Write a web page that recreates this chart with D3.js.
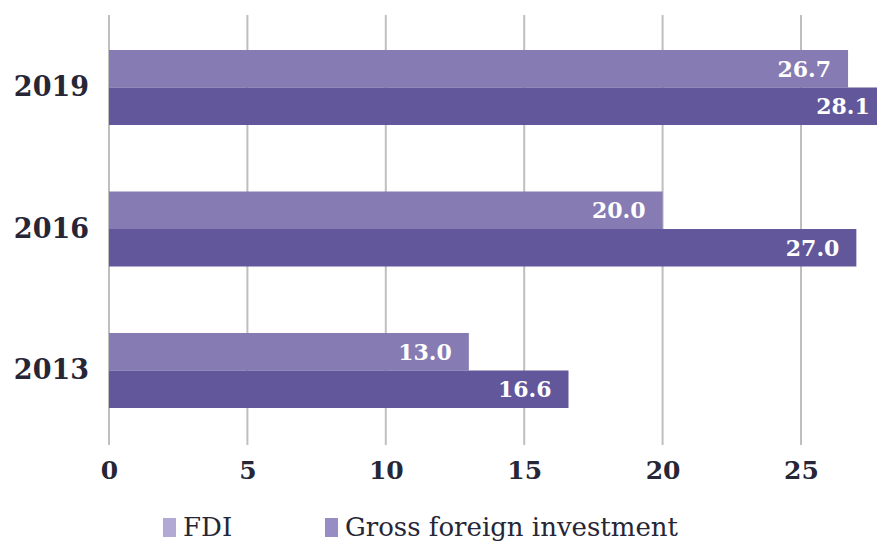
<!DOCTYPE html>
<html>
<head>
<meta charset="utf-8">
<script src="https://cdn.jsdelivr.net/npm/d3@7"></script>
<style>
  body { margin: 0; background: #fff; }
  #chart { width: 877px; height: 546px; }
</style>
</head>
<body>
<div id="chart"></div>
<script>
//Datos
const years = ['2019', '2016', '2013'];
const seriesNames = ['FDI', 'Gross foreign investment'];
const fdiValues = [26.7, 20.0, 13.0];
const grossValues = [28.1, 27.0, 16.6];
const xTicks = [0, 5, 10, 15, 20, 25];

//Colores
const COLOR_FDI = '#877BB4',
COLOR_GROSS = '#61579A',
COLOR_FDI_LEG = '#B2A9D4',
COLOR_GROSS_LEG = '#978CC3',
COLOR_GRID = '#BFBFBF',
COLOR_TEXT = '#262636';

const FONT = '"DejaVu Serif", serif';

let margin = {top: 15, right: 0, bottom: 101, left: 109},
    width = 877 - margin.left - margin.right,
    height = 546 - margin.top - margin.bottom;

let svg = d3.select('#chart')
    .append('svg')
        .attr('width', 877)
        .attr('height', 546)
    .append('g')
        .attr('transform', 'translate(' + margin.left + ',' + margin.top + ')');

let x = d3.scaleLinear()
    .domain([0, 25])
    .range([0, 692]);

let y = d3.scaleBand()
    .domain(years)
    .range([35, 393])
    .paddingInner(0.47)
    .paddingOuter(0);

let ySub = d3.scaleBand()
    .domain(seriesNames)
    .range([0, y.bandwidth()]);

//Rejilla vertical
svg.append('g')
    .selectAll('line')
    .data(xTicks)
    .enter()
    .append('line')
    .attr('x1', d => x(d))
    .attr('x2', d => x(d))
    .attr('y1', 0)
    .attr('y2', height)
    .attr('stroke', COLOR_GRID)
    .attr('stroke-width', 2);

//Eje X
let xAxis = svg.append('g')
    .attr('transform', 'translate(0,' + height + ')')
    .call(d3.axisBottom(x).tickValues(xTicks).tickSize(0).tickPadding(16));
xAxis.select('.domain').remove();
xAxis.selectAll('text')
    .attr('font-family', FONT)
    .attr('font-weight', 'bold')
    .attr('font-size', 25)
    .attr('fill', COLOR_TEXT);

//Eje Y
let yAxis = svg.append('g')
    .call(d3.axisLeft(y).tickSize(0).tickPadding(20));
yAxis.select('.domain').remove();
yAxis.selectAll('text')
    .attr('font-family', FONT)
    .attr('font-weight', 'bold')
    .attr('font-size', 27)
    .attr('fill', COLOR_TEXT);

//Barras
let rows = years.map((yr, i) => ({year: yr, values: [fdiValues[i], grossValues[i]]}));
let colors = [COLOR_FDI, COLOR_GROSS];

let groups = svg.append('g')
    .selectAll('g')
    .data(rows)
    .enter()
    .append('g')
    .attr('transform', d => 'translate(0,' + y(d.year) + ')');

groups.selectAll('rect')
    .data(d => d.values.map((v, j) => ({name: seriesNames[j], value: v, idx: j})))
    .enter()
    .append('rect')
    .attr('x', 0)
    .attr('y', d => ySub(d.name))
    .attr('width', d => x(d.value))
    .attr('height', ySub.bandwidth())
    .attr('fill', d => colors[d.idx]);

groups.selectAll('text')
    .data(d => d.values.map((v, j) => ({name: seriesNames[j], value: v})))
    .enter()
    .append('text')
    .attr('x', d => x(d.value) - 17)
    .attr('y', d => ySub(d.name) + ySub.bandwidth() / 2)
    .attr('dy', '0.36em')
    .attr('text-anchor', 'end')
    .attr('font-family', FONT)
    .attr('font-weight', 'bold')
    .attr('font-size', 22)
    .attr('fill', '#fff')
    .text(d => d3.format('.1f')(d.value));

//Leyenda
let legend = d3.select('#chart svg').append('g')
    .attr('transform', 'translate(0,527)');
let legendPos = [163, 325];
let legendColors = [COLOR_FDI_LEG, COLOR_GROSS_LEG];
seriesNames.forEach((name, i) => {
    legend.append('rect')
        .attr('x', legendPos[i])
        .attr('y', -9)
        .attr('width', 13)
        .attr('height', 19)
        .attr('fill', legendColors[i]);
    legend.append('text')
        .attr('x', legendPos[i] + 20)
        .attr('y', 0)
        .attr('dy', '0.36em')
        .attr('font-family', FONT)
        .attr('font-size', 26)
        .attr('fill', COLOR_TEXT)
        .text(name);
});
</script>
</body>
</html>
